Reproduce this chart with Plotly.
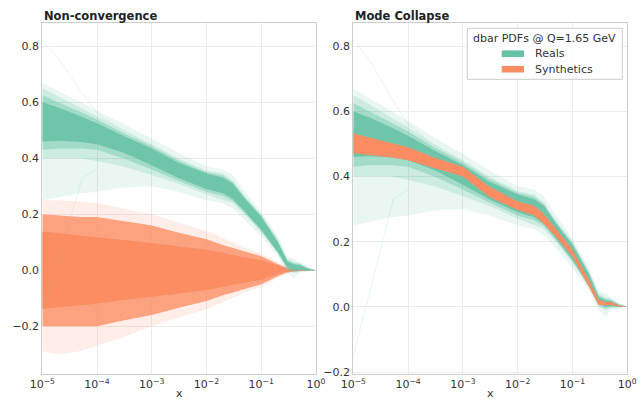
import plotly.graph_objects as go

# ---------------- data ----------------
X = [1e-5, 2e-5, 5e-5, 1e-4, 3e-4, 1e-3, 3e-3, 1e-2, 2e-2, 3e-2, 5e-2,
     0.1, 0.2, 0.3, 0.4, 0.5, 0.7, 1.0]

# Reals (dbar replicas) - dense core envelope
REAL_CORE_LO = [0.460, 0.462, 0.458, 0.450, 0.420, 0.375, 0.330, 0.290, 0.275, 0.255, 0.210,
                0.145, 0.065, 0.010, 0.000, 0.003, 0.000, 0.0]
REAL_CORE_HI = [0.600, 0.580, 0.550, 0.525, 0.480, 0.435, 0.385, 0.345, 0.330, 0.310, 0.255,
                0.190, 0.100, 0.030, 0.020, 0.018, 0.006, 0.0]
# Reals - fairly dense envelope
REAL_DENSE_LO = [0.430, 0.435, 0.435, 0.430, 0.400, 0.360, 0.320, 0.280, 0.265, 0.248, 0.205,
                 0.140, 0.062, 0.005, -0.005, 0.000, -0.001, 0.0]
REAL_DENSE_HI = [0.625, 0.600, 0.565, 0.538, 0.490, 0.443, 0.393, 0.350, 0.338, 0.315, 0.260,
                 0.195, 0.105, 0.035, 0.025, 0.022, 0.008, 0.0]
# Reals - medium-density envelope
REAL_MID_LO = [0.400, 0.400, 0.400, 0.390, 0.370, 0.340, 0.310, 0.270, 0.250, 0.240, 0.200,
               0.135, 0.060, 0.000, -0.010, -0.005, -0.002, 0.0]
REAL_MID_HI = [0.650, 0.620, 0.580, 0.550, 0.500, 0.450, 0.400, 0.355, 0.345, 0.320, 0.265,
               0.200, 0.110, 0.040, 0.030, 0.025, 0.010, 0.0]
# Reals - sparse outer envelope
REAL_OUT_LO = [0.250, 0.260, 0.275, 0.280, 0.295, 0.300, 0.280, 0.250, 0.240, 0.220, 0.180,
               0.120, 0.050, -0.010, -0.030, -0.010, -0.005, 0.0]
REAL_OUT_HI = [0.670, 0.640, 0.600, 0.570, 0.520, 0.470, 0.420, 0.370, 0.360, 0.340, 0.280,
               0.210, 0.120, 0.050, 0.040, 0.030, 0.012, 0.0]
# Reals - isolated outlier replicas
OUTLIER_HI_X = [1e-5, 2e-5, 5e-5, 1e-4, 2e-4]
OUTLIER_HI_Y = [0.820, 0.755, 0.640, 0.560, 0.520]
OUTLIER_LO_X = [1e-5, 2e-5, 5.4e-5, 1e-4]
OUTLIER_LO_Y = [-0.150, 0.047, 0.330, 0.360]

# Synthetics, non-convergence (noise around zero)
NOISE_CORE_LO = [-0.138, -0.132, -0.125, -0.120, -0.107, -0.096, -0.084, -0.071, -0.061, -0.053, -0.045,
                 -0.035, -0.015, -0.005, -0.003, -0.002, -0.001, 0.0]
NOISE_CORE_HI = [0.138, 0.132, 0.124, 0.118, 0.106, 0.097, 0.085, 0.073, 0.062, 0.054, 0.046,
                 0.036, 0.015, 0.005, 0.003, 0.002, 0.001, 0.0]
NOISE_MID_LO = [-0.200, -0.200, -0.200, -0.200, -0.180, -0.160, -0.135, -0.110, -0.090, -0.080, -0.065,
                -0.050, -0.022, -0.008, -0.005, -0.003, -0.001, 0.0]
NOISE_MID_HI = [0.200, 0.195, 0.190, 0.190, 0.175, 0.160, 0.135, 0.110, 0.090, 0.080, 0.065,
                0.050, 0.022, 0.008, 0.005, 0.003, 0.001, 0.0]
NOISE_OUT_LO = [-0.290, -0.300, -0.290, -0.270, -0.240, -0.200, -0.170, -0.140, -0.115, -0.100, -0.080,
                -0.060, -0.028, -0.010, -0.006, -0.004, -0.002, 0.0]
NOISE_OUT_HI = [0.250, 0.250, 0.245, 0.240, 0.220, 0.200, 0.170, 0.140, 0.115, 0.100, 0.080,
                0.060, 0.028, 0.010, 0.006, 0.004, 0.002, 0.0]

# Synthetics, mode collapse (narrow band)
COLLAPSE_LO = [0.471, 0.466, 0.458, 0.450, 0.425, 0.400, 0.338, 0.297, 0.280, 0.255, 0.215,
               0.154, 0.062, 0.006, 0.005, 0.006, 0.001, 0.0]
COLLAPSE_HI = [0.532, 0.520, 0.503, 0.490, 0.458, 0.430, 0.369, 0.323, 0.310, 0.285, 0.240,
               0.175, 0.083, 0.021, 0.015, 0.016, 0.005, 0.0]

Y_TICKS = [-0.2, 0.0, 0.2, 0.4, 0.6, 0.8]
Y_TICKTEXT = ["\u22120.2", "0.0", "0.2", "0.4", "0.6", "0.8"]
X_TICKS = [1e-5, 1e-4, 1e-3, 1e-2, 1e-1, 1e0]
X_TICKTEXT = ["10<sup>\u22125</sup>", "10<sup>\u22124</sup>", "10<sup>\u22123</sup>",
              "10<sup>\u22122</sup>", "10<sup>\u22121</sup>", "10<sup>0</sup>"]

PANEL_TITLES = ["Non-convergence", "Mode Collapse"]
LEGEND_TITLE = "dbar PDFs @ Q=1.65 GeV"
LEGEND_LABELS = ["Reals", "Synthetics"]

GREEN = (102, 194, 165)
ORANGE = (252, 141, 98)

# ---------------- figure ----------------
W, H = 643, 400
fig = go.Figure()


def rgba(c, a):
    return "rgba(%d,%d,%d,%.3f)" % (c[0], c[1], c[2], a)


def band(lo, hi, color, alpha, xa, ya, name):
    fig.add_trace(go.Scatter(x=X, y=lo, mode="lines", line=dict(width=0),
                             hoverinfo="skip", showlegend=False, xaxis=xa, yaxis=ya))
    fig.add_trace(go.Scatter(x=X, y=hi, mode="lines", line=dict(width=0),
                             fill="tonexty", fillcolor=rgba(color, alpha),
                             name=name, showlegend=False, xaxis=xa, yaxis=ya))


def reals(xa, ya):
    band(REAL_OUT_LO, REAL_OUT_HI, GREEN, 0.14, xa, ya, "Reals")
    band(REAL_MID_LO, REAL_MID_HI, GREEN, 0.22, xa, ya, "Reals")
    band(REAL_DENSE_LO, REAL_DENSE_HI, GREEN, 0.40, xa, ya, "Reals")
    band(REAL_CORE_LO, REAL_CORE_HI, GREEN, 0.88, xa, ya, "Reals")
    for ox, oy in ((OUTLIER_HI_X, OUTLIER_HI_Y), (OUTLIER_LO_X, OUTLIER_LO_Y)):
        fig.add_trace(go.Scatter(x=ox, y=oy, mode="lines",
                                 line=dict(width=1, color=rgba(GREEN, 0.15)),
                                 showlegend=False, hoverinfo="skip", xaxis=xa, yaxis=ya))


# left panel: noise synthetics behind reals
band(NOISE_OUT_LO, NOISE_OUT_HI, ORANGE, 0.15, "x", "y", "Synthetics")
band(NOISE_MID_LO, NOISE_MID_HI, ORANGE, 0.78, "x", "y", "Synthetics")
band(NOISE_CORE_LO, NOISE_CORE_HI, ORANGE, 1.0, "x", "y", "Synthetics")
reals("x", "y")

# right panel: reals behind collapsed synthetics
reals("x2", "y2")
band(COLLAPSE_LO, COLLAPSE_HI, ORANGE, 1.0, "x2", "y2", "Synthetics")

# geometry in pixels
LX0, LX1 = 42.3, 316.0
RX0, RX1 = 353.3, 627.3
YT, YB = 23.3, 374.0


def px(x):
    return x / W


def py(y):
    return (H - y) / H


axis_font = dict(family="DejaVu Sans", size=11, color="#333333")
common_x = dict(type="log", range=[-5, 0], tickvals=X_TICKS, ticktext=X_TICKTEXT,
                showgrid=True, gridcolor="#ebebeb", gridwidth=1, zeroline=False,
                showline=True, linecolor="#cccccc", linewidth=1.2, mirror=True,
                ticks="", tickfont=axis_font, automargin=False,
                title=dict(text="x", font=axis_font, standoff=2))
common_y = dict(tickvals=Y_TICKS, ticktext=Y_TICKTEXT, showgrid=True, gridcolor="#ebebeb",
                gridwidth=1, zeroline=False, showline=True, linecolor="#cccccc",
                linewidth=1.2, mirror=True, ticks="", tickfont=axis_font, automargin=False)

fig.update_layout(
    width=W, height=H,
    margin=dict(l=0, r=0, t=0, b=0),
    paper_bgcolor="white", plot_bgcolor="white",
    showlegend=False,
    font=dict(family="DejaVu Sans", color="#333333"),
    xaxis=dict(domain=[px(LX0), px(LX1)], anchor="y", **common_x),
    yaxis=dict(domain=[py(YB), py(YT)], anchor="x", range=[-0.371, 0.882], **common_y),
    xaxis2=dict(domain=[px(RX0), px(RX1)], anchor="y2", **common_x),
    yaxis2=dict(domain=[py(YB), py(YT)], anchor="x2", range=[-0.206, 0.870], **common_y),
)

# panel titles
for x0, t in ((LX0, PANEL_TITLES[0]), (RX0, PANEL_TITLES[1])):
    fig.add_annotation(x=px(x0), y=py(16), xref="paper", yref="paper", text="<b>%s</b>" % t,
                       showarrow=False, xanchor="left", yanchor="middle",
                       font=dict(family="DejaVu Sans", size=11.5, color="#222222"))

# legend (drawn in the right panel)
LB = dict(x0=467.3, x1=622.3, y0=28.3, y1=79.3)
fig.add_shape(type="rect", xref="paper", yref="paper", layer="above",
              x0=px(LB["x0"]), x1=px(LB["x1"]), y0=py(LB["y1"]), y1=py(LB["y0"]),
              line=dict(color="#cccccc", width=1), fillcolor="rgba(255,255,255,0.85)")
fig.add_annotation(x=px((LB["x0"] + LB["x1"]) / 2), y=py(38.5), xref="paper", yref="paper",
                   text=LEGEND_TITLE, showarrow=False, xanchor="center", yanchor="middle",
                   font=dict(family="DejaVu Sans", size=11, color="#333333"))
for label, col, yc in ((LEGEND_LABELS[0], GREEN, 53.7), (LEGEND_LABELS[1], ORANGE, 69.2)):
    fig.add_shape(type="rect", xref="paper", yref="paper", layer="above",
                  x0=px(501.7), x1=px(524.0), y0=py(yc + 3.3), y1=py(yc - 3.3),
                  line=dict(width=0), fillcolor=rgba(col, 1.0))
    fig.add_annotation(x=px(532.5), y=py(yc), xref="paper", yref="paper", text=label,
                       showarrow=False, xanchor="left", yanchor="middle",
                       font=dict(family="DejaVu Sans", size=11, color="#333333"))

fig.write_html("out.html", config={"displayModeBar": False},
               post_script="document.body.style.margin='0';document.body.style.overflow='hidden';")
